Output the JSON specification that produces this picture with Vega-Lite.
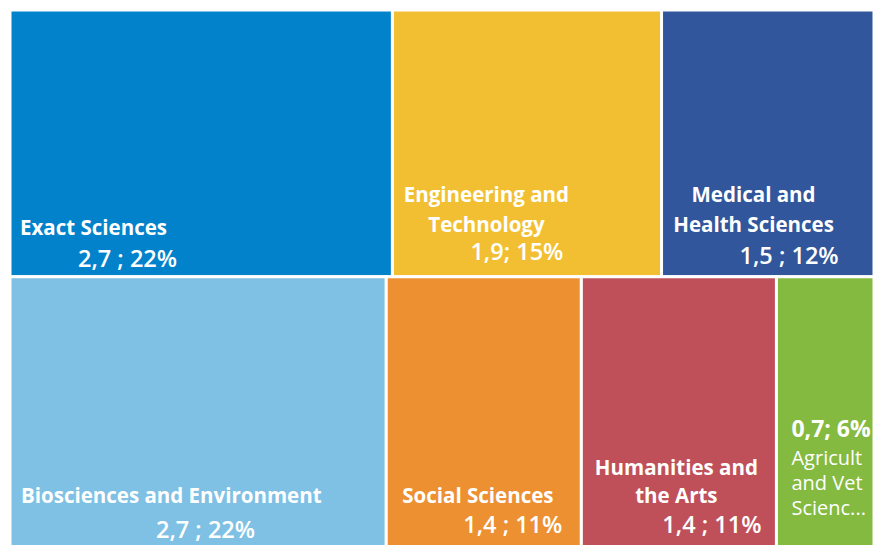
{
  "$schema": "https://vega.github.io/schema/vega-lite/v6.json",
  "width": 877,
  "height": 545,
  "autosize": {"type": "none"},
  "padding": 0,
  "background": "white",
  "config": {"view": {"stroke": null}, "text": {"font": "Open Sans", "color": "white", "lineBreak": "\n"}},
  "data": {
    "values": [
      {"name": "Exact Sciences", "label": "Exact Sciences", "value": 2.7, "share": "2,7 ; 22%", "row": "top", "rank": 1},
      {"name": "Engineering and Technology", "label": "Engineering and\nTechnology", "value": 1.9, "share": "1,9; 15%", "row": "top", "rank": 2},
      {"name": "Medical and Health Sciences", "label": "Medical and\nHealth Sciences", "value": 1.5, "share": "1,5 ; 12%", "row": "top", "rank": 3},
      {"name": "Biosciences and Environment", "label": "Biosciences and Environment", "value": 2.7, "share": "2,7 ; 22%", "row": "bottom", "rank": 1},
      {"name": "Social Sciences", "label": "Social Sciences", "value": 1.4, "share": "1,4 ; 11%", "row": "bottom", "rank": 2},
      {"name": "Humanities and the Arts", "label": "Humanities and\nthe Arts", "value": 1.4, "share": "1,4 ; 11%", "row": "bottom", "rank": 3},
      {"name": "Agricultural and Veterinary Sciences", "label": "Agricult\nand Vet\nScienc...", "value": 0.7, "share": "0,7; 6%", "row": "bottom", "rank": 4}
    ]
  },
  "transform": [
    {"joinaggregate": [{"op": "sum", "field": "value", "as": "total"}]},
    {"joinaggregate": [{"op": "sum", "field": "value", "as": "rowSum"}], "groupby": ["row"]},
    {"stack": "value", "groupby": ["row"], "sort": [{"field": "rank", "order": "ascending"}], "as": ["x0", "x1"], "offset": "normalize"},
    {"calculate": "datum.row == 'top' ? 0 : 1 - datum.rowSum / datum.total", "as": "y0"},
    {"calculate": "datum.row == 'top' ? datum.rowSum / datum.total : 1", "as": "y1"}
  ],
  "encoding": {
    "x": {"field": "x0", "type": "quantitative", "axis": null, "scale": {"domain": [-0.011574, 1.003472], "nice": false, "zero": false}},
    "y": {"field": "y1", "type": "quantitative", "axis": null, "scale": {"domain": [-0.018587, 0.994424], "nice": false, "zero": false, "reverse": true}}
  },
  "layer": [
    {
      "mark": {"type": "rect", "stroke": "white", "strokeWidth": 3},
      "encoding": {
        "x2": {"field": "x1"},
        "y2": {"field": "y0"},
        "color": {
          "field": "name", "type": "nominal", "legend": null,
          "scale": {
            "domain": ["Exact Sciences", "Engineering and Technology", "Medical and Health Sciences", "Biosciences and Environment", "Social Sciences", "Humanities and the Arts", "Agricultural and Veterinary Sciences"],
            "range": ["#0282CB", "#F2BF33", "#31569B", "#7FC1E4", "#ED9032", "#BF505A", "#84BA3F"]
          }
        }
      }
    },
    {"transform": [{"filter": "datum.name == 'Exact Sciences'"}], "mark": {"type": "text", "align": "left", "baseline": "alphabetic", "dx": 10, "dy": -42, "fontSize": 20.5, "fontWeight": "bold"}, "encoding": {"text": {"field": "label"}}},
    {"transform": [{"filter": "datum.name == 'Exact Sciences'"}], "mark": {"type": "text", "align": "left", "baseline": "alphabetic", "dx": 68, "dy": -10, "fontSize": 23.5, "fontWeight": 600}, "encoding": {"text": {"field": "share"}}},
    {"transform": [{"filter": "datum.name == 'Engineering and Technology'"}], "mark": {"type": "text", "align": "center", "baseline": "alphabetic", "dx": 94, "dy": -75, "lineHeight": 30, "fontSize": 20.5, "fontWeight": "bold"}, "encoding": {"text": {"field": "label"}}},
    {"transform": [{"filter": "datum.name == 'Engineering and Technology'"}], "mark": {"type": "text", "align": "left", "baseline": "alphabetic", "dx": 78, "dy": -17, "fontSize": 23.5, "fontWeight": 600}, "encoding": {"text": {"field": "share"}}},
    {"transform": [{"filter": "datum.name == 'Medical and Health Sciences'"}], "mark": {"type": "text", "align": "center", "baseline": "alphabetic", "dx": 92, "dy": -75, "lineHeight": 30, "fontSize": 20.5, "fontWeight": "bold"}, "encoding": {"text": {"field": "label"}}},
    {"transform": [{"filter": "datum.name == 'Medical and Health Sciences'"}], "mark": {"type": "text", "align": "left", "baseline": "alphabetic", "dx": 78, "dy": -13, "fontSize": 23.5, "fontWeight": 600}, "encoding": {"text": {"field": "share"}}},
    {"transform": [{"filter": "datum.name == 'Biosciences and Environment'"}], "mark": {"type": "text", "align": "left", "baseline": "alphabetic", "dx": 11, "dy": -45, "fontSize": 20.5, "fontWeight": "bold"}, "encoding": {"text": {"field": "label"}}},
    {"transform": [{"filter": "datum.name == 'Biosciences and Environment'"}], "mark": {"type": "text", "align": "left", "baseline": "alphabetic", "dx": 146, "dy": -10, "fontSize": 23.5, "fontWeight": 600}, "encoding": {"text": {"field": "share"}}},
    {"transform": [{"filter": "datum.name == 'Social Sciences'"}], "mark": {"type": "text", "align": "left", "baseline": "alphabetic", "dx": 16, "dy": -45, "fontSize": 20.5, "fontWeight": "bold"}, "encoding": {"text": {"field": "label"}}},
    {"transform": [{"filter": "datum.name == 'Social Sciences'"}], "mark": {"type": "text", "align": "left", "baseline": "alphabetic", "dx": 77, "dy": -15, "fontSize": 23.5, "fontWeight": 600}, "encoding": {"text": {"field": "share"}}},
    {"transform": [{"filter": "datum.name == 'Humanities and the Arts'"}], "mark": {"type": "text", "align": "center", "baseline": "alphabetic", "dx": 95, "dy": -73, "lineHeight": 28, "fontSize": 20.5, "fontWeight": "bold"}, "encoding": {"text": {"field": "label"}}},
    {"transform": [{"filter": "datum.name == 'Humanities and the Arts'"}], "mark": {"type": "text", "align": "left", "baseline": "alphabetic", "dx": 81, "dy": -15, "fontSize": 23.5, "fontWeight": 600}, "encoding": {"text": {"field": "share"}}},
    {"transform": [{"filter": "datum.name == 'Agricultural and Veterinary Sciences'"}], "mark": {"type": "text", "align": "left", "baseline": "alphabetic", "dx": 15, "dy": -83, "lineHeight": 25, "fontSize": 20, "fontWeight": "normal"}, "encoding": {"text": {"field": "label"}}},
    {"transform": [{"filter": "datum.name == 'Agricultural and Veterinary Sciences'"}], "mark": {"type": "text", "align": "left", "baseline": "alphabetic", "dx": 15, "dy": -111, "fontSize": 23, "fontWeight": "bold"}, "encoding": {"text": {"field": "share"}}}
  ]
}
